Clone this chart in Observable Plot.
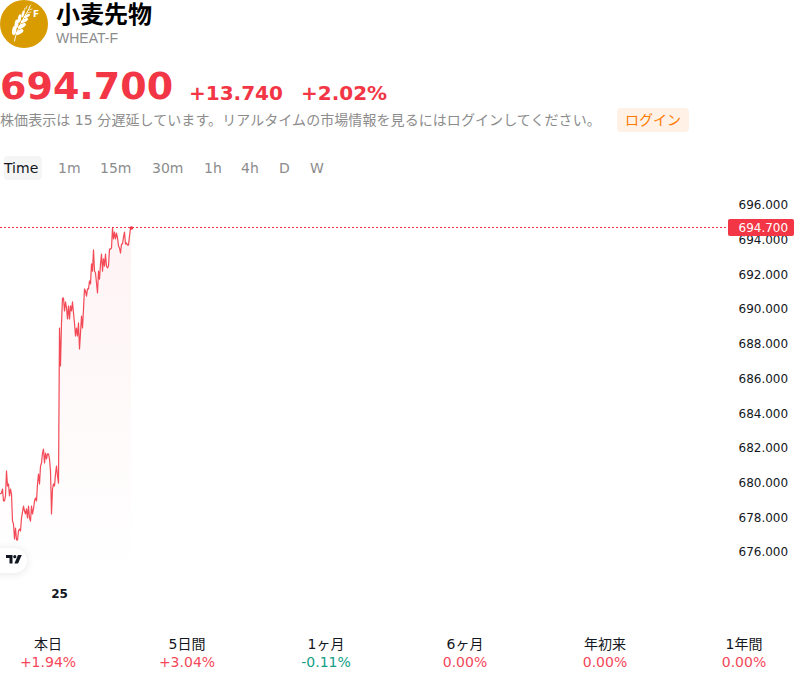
<!DOCTYPE html>
<html lang="ja">
<head>
<meta charset="utf-8">
<script src="https://cdn.jsdelivr.net/npm/d3@7"></script>
<script src="https://cdn.jsdelivr.net/npm/@observablehq/plot@0.6"></script>
<style>
html,body{margin:0;padding:0;background:#fff;}
body{width:800px;height:682px;position:relative;overflow:hidden;font-family:"DejaVu Sans","Noto Sans CJK JP",sans-serif;}
.a{position:absolute;white-space:nowrap;line-height:1;}
#chart{position:absolute;left:0;top:190px;}
#chart svg{display:block;overflow:visible;}
.c{transform:translate(-50%,-50%);}
</style>
</head>
<body>
<svg class="a" style="left:0;top:0" width="48" height="48" viewBox="0 0 48 48">
  <circle cx="24" cy="24" r="24" fill="#d89b00"/>
  <g fill="none" stroke="#fff" stroke-linecap="round">
    <path d="M14.5 41 C16 33 19 26 30 7" stroke-width="1"/>
    <path d="M29 7 L31 5 M26 9 L27 6 M29 10 L32 9 M24 12 L25 8 M27 13 L31 12" stroke-width=".7"/>
  </g>
  <g fill="#fff">
    <ellipse cx="23" cy="14" rx="1.3" ry="3.6" transform="rotate(15 23 14)"/>
    <ellipse cx="27" cy="16" rx="1.3" ry="3.4" transform="rotate(60 27 16)"/>
    <ellipse cx="19.5" cy="18.5" rx="1.6" ry="4.2" transform="rotate(10 19.5 18.5)"/>
    <ellipse cx="24.5" cy="20.5" rx="1.6" ry="4" transform="rotate(62 24.5 20.5)"/>
    <ellipse cx="16.5" cy="24" rx="1.9" ry="4.6" transform="rotate(8 16.5 24)"/>
    <ellipse cx="22" cy="26" rx="1.9" ry="4.4" transform="rotate(60 22 26)"/>
    <ellipse cx="14.2" cy="30.5" rx="2.1" ry="4.6" transform="rotate(8 14.2 30.5)"/>
    <ellipse cx="19.5" cy="32" rx="2.1" ry="4.4" transform="rotate(58 19.5 32)"/>
  </g>
  <text x="33" y="17" font-family="DejaVu Sans" font-weight="700" font-size="9" fill="#fff">F</text>
</svg>
<div class="a" id="name" style="left:56px;top:3px;font-size:24px;font-weight:700;color:#000;font-family:'DejaVu Sans','Noto Sans CJK JP'"></div>
<div class="a" id="sym" style="left:56px;top:31px;font-size:14px;color:#8c8c8c;font-family:'Liberation Sans'"></div>
<div class="a" id="price" style="left:0;top:67px;font-size:38px;font-weight:700;color:#f23645"></div>
<div class="a" id="chg" style="left:189px;top:83px;font-size:20px;font-weight:700;color:#f23645"></div>
<div class="a" id="pct" style="left:301px;top:83px;font-size:20px;font-weight:700;color:#f23645"></div>
<div class="a" id="note" style="left:0;top:112.5px;font-size:14px;letter-spacing:.07px;color:#8c8c8c"></div>
<div class="a" style="left:617px;top:108px;width:72px;height:24px;background:#fff1e6;border-radius:4px"></div>
<div class="a c" id="login" style="left:653px;top:120px;font-size:14px;color:#ff7a00"></div>
<div class="a" style="left:4px;top:156px;width:38px;height:24px;background:#f5f5f5;border-radius:4px"></div>
<div id="tabs"></div>
<div id="chart"></div>
<div class="a" style="left:-10px;top:548px;width:37px;height:25px;border-radius:13px;background:#fff;box-shadow:0 1px 8px rgba(0,0,0,.1)"></div>
<svg class="a" style="left:6px;top:555px" width="16" height="10" viewBox="0 0 16 10">
  <path fill="#131722" d="M0 0H6.5V8.5H3.5V3H0Z"/>
  <circle cx="8.8" cy="1.7" r="1.6" fill="#131722"/>
  <path fill="#131722" d="M12 0H15.8L12 8.5H8.4Z"/>
</svg>
<div id="periods"></div>
<script>
const stockName = "小麦先物";
const symbol = "WHEAT-F";
const lastPrice = 694.7;
const change = "+13.740";
const changePct = "+2.02%";
const delayNote = "株価表示は 15 分遅延しています。リアルタイムの市場情報を見るにはログインしてください。";
const loginLabel = "ログイン";
const intervals = ["Time","1m","15m","30m","1h","4h","D","W"];
const intervalLeft = [4,58,100,152,204,241,279,310];
const periodLabels = ["本日","5日間","1ヶ月","6ヶ月","年初来","1年間"];
const periodValues = ["+1.94%","+3.04%","-0.11%","0.00%","0.00%","0.00%"];
const periodCenter = [48,187,326,465,605,744];
const yTicks = [676,678,680,682,684,686,688,690,692,694,696];
const prices = [
679.39,679.43,679.66,678.97,678.97,679.26,680.70,679.83,679.95,679.26,
679.66,679.37,677.81,677.64,676.78,677.41,676.72,676.72,677.24,677.35,
677.24,677.99,678.33,678.68,678.39,678.22,678.51,677.99,678.68,677.99,
677.81,678.68,678.22,678.51,678.97,679.14,678.97,679.95,680.52,679.95,
680.98,681.16,681.73,681.96,681.16,681.73,681.39,681.68,681.68,681.39,
680.70,678.22,679.66,679.95,679.83,680.52,680.98,680.41,680.00,688.94,
686.75,689.23,690.67,690.67,689.92,690.44,690.09,689.46,690.21,689.46,
690.21,689.92,690.44,689.80,689.23,688.48,688.94,688.48,689.23,687.73,
688.65,689.63,688.94,690.03,691.19,691.07,690.78,691.19,691.19,691.65,
691.48,692.63,692.22,693.44,692.22,692.11,691.53,690.96,692.22,691.76,
692.63,693.20,692.22,692.92,692.51,693.20,692.51,692.40,692.51,693.49,
693.49,693.55,694.70,694.07,694.47,694.07,694.41,694.13,693.67,693.55,
693.26,693.78,693.78,694.18,694.47,693.78,693.84,693.72,693.72,694.24,
694.70,694.70];
const dayBreakIndex = 59;
const dayLabel = "25";
const areaFloor = 674.95;
const red = "#f23645";

document.getElementById("name").textContent = stockName;
document.getElementById("sym").textContent = symbol;
document.getElementById("price").textContent = lastPrice.toFixed(3);
document.getElementById("chg").textContent = change;
document.getElementById("pct").textContent = changePct;
document.getElementById("note").textContent = delayNote;
document.getElementById("login").textContent = loginLabel;

const tabs = document.getElementById("tabs");
intervals.forEach((t,i)=>{
  const d = document.createElement("div");
  d.className = "a";
  d.textContent = t;
  d.style.cssText = `left:${intervalLeft[i]}px;top:161px;font-size:14px;color:${i===0?"#131722":"#8c8c8c"}`;
  tabs.appendChild(d);
});
const periods = document.getElementById("periods");
periodLabels.forEach((t,i)=>{
  const a = document.createElement("div");
  a.className = "a c";
  a.textContent = t;
  a.style.cssText = `left:${periodCenter[i]}px;top:643.5px;font-size:14px;color:#131722`;
  periods.appendChild(a);
  const b = document.createElement("div");
  b.className = "a c";
  b.textContent = periodValues[i];
  b.style.cssText = `left:${periodCenter[i]}px;top:662px;font-size:14px;color:${periodValues[i].startsWith("-")?"#12a088":"#f5475a"}`;
  periods.appendChild(b);
});

const series = prices.map((p,i)=>({i,p}));
const gradient = () => {
  const defs = d3.create("svg:defs");
  const g = defs.append("linearGradient").attr("id","fade").attr("x1",0).attr("x2",0).attr("y1",0).attr("y2",1);
  g.append("stop").attr("offset","0").attr("stop-color",red).attr("stop-opacity",0.06);
  g.append("stop").attr("offset","1").attr("stop-color",red).attr("stop-opacity",0);
  return defs.node();
};
const plot = Plot.plot({
  width: 800,
  height: 420,
  marginLeft: 0,
  marginRight: 72,
  marginTop: 0,
  marginBottom: 25,
  style: {fontFamily: "DejaVu Sans", fontSize: "12px", background: "transparent", color: "#131722"},
  x: {domain: [0, 728], axis: null},
  y: {domain: [676, 696], range: [362, 15], axis: null},
  marks: [
    gradient,
    Plot.areaY(series, {x: "i", y1: () => areaFloor, y2: "p", fill: "url(#fade)"}),
    Plot.axisY({anchor: "right", ticks: yTicks, tickSize: 0, tickPadding: 10, label: null, tickFormat: d3.format(".3f")}),
    Plot.axisX({anchor: "bottom", ticks: [dayBreakIndex], tickSize: 0, tickPadding: 4, label: null, tickFormat: () => dayLabel, fontWeight: 700}),
    Plot.ruleY([lastPrice], {stroke: red, strokeDasharray: "2,2", strokeWidth: 1, dy: -0.55}),
    Plot.line(series, {x: "i", y: "p", stroke: red, strokeWidth: 1.2, strokeOpacity: 0.9, curve: "linear"}),
    Plot.dot([series[series.length-1]], {x: "i", y: "p", r: 1.8, fill: red}),
    Plot.rect([lastPrice], {x1: () => 728, x2: () => 794, y1: d => d - 0.49, y2: d => d + 0.49, fill: red, rx: 2}),
    Plot.text([lastPrice], {x: () => 738, y: d => d, text: d => d.toFixed(3), fill: "#fff", textAnchor: "start", fontSize: 12})
  ]
});
document.getElementById("chart").appendChild(plot);
</script>
</body>
</html>
